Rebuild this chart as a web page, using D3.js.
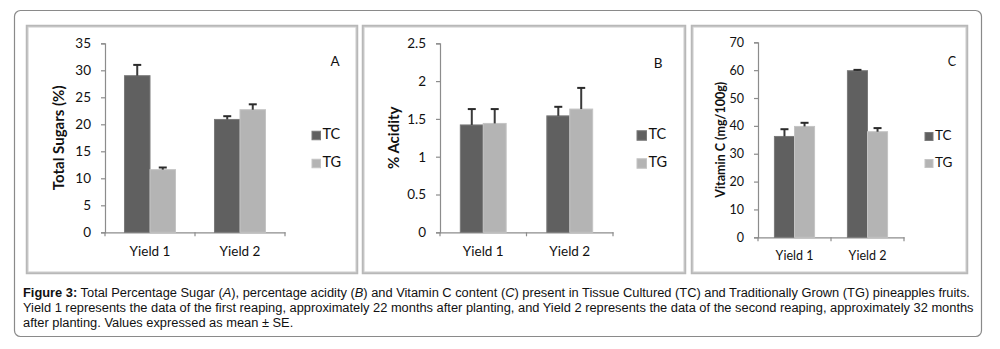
<!DOCTYPE html>
<html><head><meta charset="utf-8">
<script src="https://cdn.jsdelivr.net/npm/d3@7"></script>
<style>
html,body{margin:0;padding:0;background:#fff;}
svg{display:block;}
</style></head>
<body>
<svg id="chart" width="1000" height="349"></svg>
<script>
// ---- data ----
const categories = ["Yield 1", "Yield 2"];
const seriesNames = ["TC", "TG"];

const sugarTC = [29.0, 20.9];
const sugarTG = [11.6, 22.7];
const sugarTCse = [2.0, 0.6];
const sugarTGse = [0.4, 1.0];
const sugarTicks = [0, 5, 10, 15, 20, 25, 30, 35];

const acidityTC = [1.42, 1.54];
const acidityTG = [1.44, 1.63];
const acidityTCse = [0.21, 0.12];
const acidityTGse = [0.19, 0.28];
const acidityTicks = [0, 0.5, 1, 1.5, 2, 2.5];

const vitcTC = [36.2, 59.8];
const vitcTG = [39.8, 37.9];
const vitcTCse = [2.6, 0.3];
const vitcTGse = [1.3, 1.3];
const vitcTicks = [0, 10, 20, 30, 40, 50, 60, 70];

const captionLines = [
  [["b","Figure 3:"],["n"," Total Percentage Sugar ("],["i","A"],["n","), percentage acidity ("],["i","B"],["n",") and Vitamin C content ("],["i","C"],["n",") present in Tissue Cultured (TC) and Traditionally Grown (TG) pineapples fruits."]],
  [["n","Yield 1 represents the data of the first reaping, approximately 22 months after planting, and Yield 2 represents the data of the second reaping, approximately 32 months"]],
  [["n","after planting. Values expressed as mean \u00b1 SE."]]
];

// ---- layout ----
const colors = {TC: "#606060", TG: "#b4b4b4"};
const panels = [
  {id:"A", title:"Total Sugars (%)", tc:sugarTC, tg:sugarTG, tcse:sugarTCse, tgse:sugarTGse, ticks:sugarTicks, max:35,
   frame:[27,26,357,273], plot:[105,43.3,285,232.3], ratio:0.567, tickFont:13.5, titleFont:15, titleX:60,
   legX:312, legY:[135.5,163.5], legS:8.5, letterX:335, letterY:63, catY:253, fmt:d=>d},
  {id:"B", title:"% Acidity", tc:acidityTC, tg:acidityTG, tcse:acidityTCse, tgse:acidityTGse, ticks:acidityTicks, max:2.5,
   frame:[363,26,685,273], plot:[440,43.3,613,232.3], ratio:0.53, tickFont:13.5, titleFont:15, titleX:395,
   legX:637, legY:[135.5,163.5], legS:9.5, letterX:658, letterY:65, catY:253, fmt:d=>d},
  {id:"C", title:"Vitamin C (mg/100g)", tc:vitcTC, tg:vitcTG, tcse:vitcTCse, tgse:vitcTGse, ticks:vitcTicks, max:70,
   frame:[692,26,967,273], plot:[758,42.3,904,237.3], ratio:0.55, tickFont:12.5, titleFont:12.5, titleX:722,
   legX:925, legY:[136.5,163.5], legS:8, letterX:952, letterY:63, catY:255, fmt:d=>d}
];

const svg = d3.select("#chart");
const font = "Lato, 'Open Sans', sans-serif";

// outer rounded border
svg.append("rect").attr("x",14.5).attr("y",10.5).attr("width",967).attr("height",326)
  .attr("rx",6).attr("fill","none").attr("stroke","#8a8a8a").attr("stroke-width",1.2);

panels.forEach(p => {
  const g = svg.append("g");
  const [fx0,fy0,fx1,fy1] = p.frame;
  g.append("rect").attr("x",fx0).attr("y",fy0).attr("width",fx1-fx0).attr("height",fy1-fy0)
    .attr("fill","#fff").attr("stroke","#b8b8b8").attr("stroke-width",2.5);
  g.append("rect").attr("x",fx0+1).attr("y",fy0+1).attr("width",fx1-fx0-2).attr("height",fy1-fy0-2)
    .attr("fill","none").attr("stroke","#d8d8d8").attr("stroke-width",0.8);

  const [px0,py0,px1,py1] = p.plot;
  const y = d3.scaleLinear().domain([0,p.max]).range([py1,py0]);
  const x0 = d3.scaleBand().domain(categories).range([px0,px1]).padding(0);
  const gw = x0.bandwidth()*p.ratio;
  const x1 = d3.scaleBand().domain(seriesNames)
    .range([(x0.bandwidth()-gw)/2,(x0.bandwidth()+gw)/2]).padding(0);

  // y axis
  const ya = g.append("g").attr("transform",`translate(${px0},0)`)
    .call(d3.axisLeft(y).tickValues(p.ticks).tickSize(4).tickPadding(10).tickFormat(p.fmt));
  ya.select(".domain").attr("stroke","#8c8c8c").attr("stroke-width",1.2);
  ya.selectAll(".tick line").attr("stroke","#8c8c8c").attr("stroke-width",1.2);
  ya.selectAll("text").attr("font-family",font).attr("font-size",p.tickFont).attr("fill","#111");

  // x axis
  const xa = g.append("g").attr("transform",`translate(0,${py1})`)
    .call(d3.axisBottom(x0).tickSize(0).tickPadding(14));
  xa.select(".domain").attr("stroke","#8c8c8c").attr("stroke-width",1.2);
  xa.selectAll("text").attr("font-family",font).attr("font-size",p.tickFont).attr("fill","#111");
  const bounds = [px0].concat(categories.map(c=>x0(c)+x0.bandwidth()));
  g.selectAll(".xb").data(bounds).join("line")
    .attr("x1",d=>d).attr("x2",d=>d).attr("y1",py1).attr("y2",py1+4)
    .attr("stroke","#8c8c8c").attr("stroke-width",1.2);

  // bars
  const rows = [];
  categories.forEach((c,i)=>{
    rows.push({c, s:"TC", v:p.tc[i], e:p.tcse[i]});
    rows.push({c, s:"TG", v:p.tg[i], e:p.tgse[i]});
  });
  g.selectAll(".bar").data(rows).join("rect")
    .attr("x",d=>x0(d.c)+x1(d.s)).attr("width",x1.bandwidth())
    .attr("y",d=>y(d.v)).attr("height",d=>y(0)-y(d.v))
    .attr("fill",d=>colors[d.s])
    .attr("stroke",d=>d.s==="TC"?"#7a7a7a":"#c4c4c4").attr("stroke-width",1);

  // error bars
  const eg = g.selectAll(".err").data(rows).join("g");
  eg.append("line")
    .attr("x1",d=>x0(d.c)+x1(d.s)+x1.bandwidth()/2).attr("x2",d=>x0(d.c)+x1(d.s)+x1.bandwidth()/2)
    .attr("y1",d=>y(d.v)).attr("y2",d=>y(d.v+d.e))
    .attr("stroke","#3a3a3a").attr("stroke-width",2);
  eg.append("line")
    .attr("x1",d=>x0(d.c)+x1(d.s)+x1.bandwidth()/2-4).attr("x2",d=>x0(d.c)+x1(d.s)+x1.bandwidth()/2+4)
    .attr("y1",d=>y(d.v+d.e)).attr("y2",d=>y(d.v+d.e))
    .attr("stroke","#2a2a2a").attr("stroke-width",2);

  // y title
  g.append("text").attr("transform",`translate(${p.titleX},${(py0+py1)/2}) rotate(-90)`)
    .attr("text-anchor","middle").attr("dominant-baseline","middle")
    .attr("font-family",font).attr("font-weight","bold").attr("font-size",p.titleFont).attr("fill","#111")
    .text(p.title);

  // legend
  seriesNames.forEach((s,i)=>{
    g.append("rect").attr("x",p.legX).attr("y",p.legY[i]-p.legS/2).attr("width",p.legS).attr("height",p.legS)
      .attr("fill",colors[s]).attr("stroke",s==="TC"?"#7a7a7a":"#c4c4c4");
    g.append("text").attr("x",p.legX+p.legS+2).attr("y",p.legY[i]).attr("dominant-baseline","middle")
      .attr("font-family",font).attr("font-size",p.tickFont+1).attr("fill","#111").text(s);
  });

  // panel letter
  g.append("text").attr("x",p.letterX).attr("y",p.letterY).attr("text-anchor","middle").attr("dominant-baseline","middle")
    .attr("font-family",font).attr("font-size",p.tickFont).attr("fill","#111").text(p.id);
});

// caption
const cap = svg.append("g");
captionLines.forEach((line,i)=>{
  const t = cap.append("text").attr("x",23).attr("y",297+i*15)
    .attr("font-family","'Liberation Sans', Arial, sans-serif").attr("font-size",12.85).attr("fill","#111");
  line.forEach(([st,txt])=>{
    const ts = t.append("tspan").text(txt);
    if(st==="b") ts.attr("font-weight","bold");
    if(st==="i") ts.attr("font-style","italic");
  });
});
</script>
</body></html>
